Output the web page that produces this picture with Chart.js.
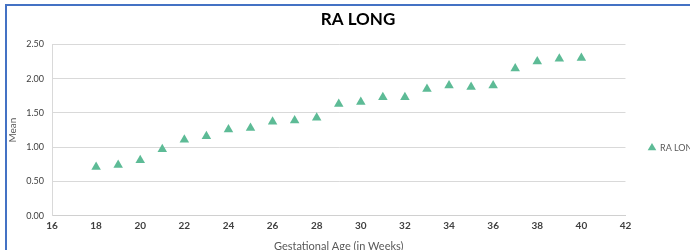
<!DOCTYPE html>
<html>
<head>
<meta charset="utf-8">
<script src="https://cdn.jsdelivr.net/npm/chart.js@4"></script>
<style>
  html, body { margin: 0; padding: 0; background: #fff; overflow: hidden; }
  #frame {
    position: absolute; left: 5px; top: 4px; width: 720px; height: 260px;
    border-left: 2px solid #4472c4; border-top: 2px solid #4472c4;
  }
  #wrap { position: absolute; left: 0; top: 0; width: 702px; height: 247px; }
</style>
</head>
<body>
<div id="frame"><div id="wrap"><canvas id="c"></canvas></div></div>
<script>
const weeks = [18, 19, 20, 21, 22, 23, 24, 25, 26, 27, 28, 29, 30, 31, 32, 33, 34, 35, 36, 37, 38, 39, 40];
const raLong = [0.71, 0.74, 0.81, 0.97, 1.11, 1.16, 1.26, 1.28, 1.37, 1.39, 1.43, 1.63, 1.66, 1.73, 1.73, 1.85, 1.90, 1.88, 1.90, 2.15, 2.25, 2.29, 2.30];
const seriesName = "RA LONG";
const xTitle = "Gestational Age (in Weeks)";
const yTitle = "Mean";

const FONT = "Lato, 'Liberation Sans', sans-serif";
const GREEN = "#5dbb96";

new Chart(document.getElementById("c"), {
  type: "scatter",
  data: {
    datasets: [
      {
        label: seriesName,
        data: weeks.map((w, i) => ({ x: w, y: raLong[i] })),
        pointStyle: "triangle",
        radius: 5.5,
        hoverRadius: 5.5,
        backgroundColor: GREEN,
        borderColor: GREEN,
        borderWidth: 0,
      },
    ],
  },
  options: {
    responsive: true,
    maintainAspectRatio: false,
    animation: false,
    layout: { padding: 0 },
    plugins: {
      title: {
        display: true,
        text: seriesName,
        color: "#000",
        font: { family: FONT, size: 17, weight: "bold" },
        padding: { top: 3, bottom: 15 },
      },
      legend: {
        position: "right",
        title: { display: true, text: " ", font: { size: 14 }, padding: 10 },
        labels: {
          usePointStyle: true,
          boxWidth: 7,
          boxHeight: 7,
          padding: 23,
          color: "#595959",
          font: { family: FONT, size: 9 },
        },
      },
      tooltip: { enabled: false },
    },
    scales: {
      x: {
        type: "linear",
        min: 16,
        max: 42,
        ticks: {
          stepSize: 2,
          color: "#404040",
          font: { family: FONT, size: 10, weight: "bold" },
          padding: 4,
        },
        grid: { display: false, drawTicks: false },
        border: { display: true, color: "#d0d0d0", width: 1 },
        title: {
          display: true,
          text: xTitle,
          color: "#595959",
          font: { family: FONT, size: 11 },
          padding: { top: 4, bottom: 0 },
        },
      },
      y: {
        min: 0,
        max: 2.5,
        afterFit: (s) => { s.width = 45; },
        ticks: {
          stepSize: 0.5,
          color: "#404040",
          font: { family: FONT, size: 9 },
          padding: 8,
          callback: (v) => Number(v).toFixed(2),
        },
        grid: { color: "#d9d9d9", lineWidth: 1, drawTicks: false },
        border: { display: true, color: "#d9d9d9" },
        title: {
          display: true,
          text: yTitle,
          color: "#595959",
          font: { family: FONT, size: 10 },
          padding: { top: 0, bottom: 4 },
        },
      },
    },
  },
});
</script>
</body>
</html>
